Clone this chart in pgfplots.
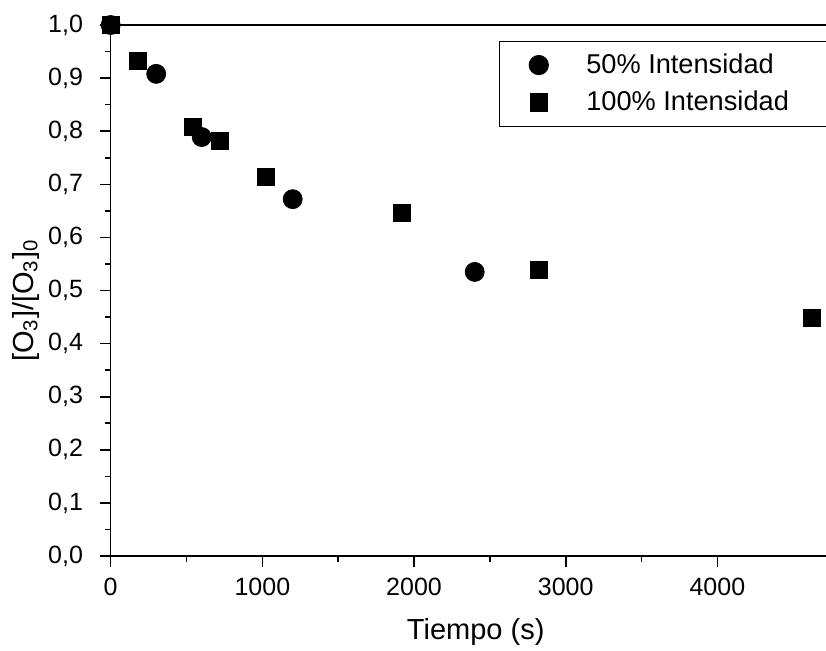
\documentclass[border=0pt]{standalone}
\usepackage{fontspec}
\setmainfont{Liberation Sans}
\usepackage{pgfplots}
\pgfplotsset{compat=1.18}
\usetikzlibrary{calc}

\begin{document}
\fontsize{12.5}{15}\selectfont
\begin{tikzpicture}
\begin{axis}[
    scale only axis,
    width=365pt, height=265.5pt,
    xmin=0, xmax=4813, ymin=0, ymax=1,
    xtick={0,1000,2000,3000,4000},
    ytick={0,0.1,...,1.0},
    minor x tick num=1, minor y tick num=1,
    tick align=outside, tick pos=left,
    major tick length=5.5pt, minor tick length=3pt,
    every tick/.style={black, line width=0.8pt},
    axis line style={line width=0.8pt},
    /pgf/number format/assume math mode=true,
    xticklabel style={yshift=-1pt, /pgf/number format/.cd, set thousands separator={}},
    yticklabel style={xshift=-4pt, /pgf/number format/.cd, fixed, fixed zerofill, precision=1, use comma},
    scaled y ticks=false,
    xlabel={Tiempo (s)},
    ylabel={[O\textsubscript{3}]/[O\textsubscript{3}]\textsubscript{0}},
    label style={font=\fontsize{14.5}{17}\selectfont},
    xlabel style={yshift=-3pt},
    ylabel style={yshift=-4pt, xshift=-5pt},
    legend style={at={(axis description cs:0.5315,0.9704)}, anchor=north west,
        draw=black, line width=0.6pt, row sep=3pt, inner xsep=15pt, inner ysep=4pt,
        font=\fontsize{13.6}{16}\selectfont},
    legend cell align=left,
    clip=false,
]
\coordinate (sw) at (rel axis cs:0,0);
% 50%
\addplot[only marks, mark=*, mark size=4.75pt, black] coordinates {
    (0,1.0)(300,0.908)(600,0.789)(1200,0.672)(2400,0.535)};
\addlegendentry{\hspace{17pt}\makebox[140pt][l]{50\% Intensidad}}
% 100%
\addplot[only marks, mark=square*, mark size=4.25pt, black] coordinates {
    (0,1.0)(180,0.932)(540,0.809)(720,0.782)(1020,0.714)(1920,0.647)(2820,0.539)(4620,0.448)};
\addlegendentry{\hspace{17pt}\makebox[140pt][l]{100\% Intensidad}}
\end{axis}
\pgfresetboundingbox
\path[use as bounding box] ($(sw)+(-55.35pt,-47pt)$) rectangle ($(sw)+(357.65pt,278pt)$);
\end{tikzpicture}
\end{document}
